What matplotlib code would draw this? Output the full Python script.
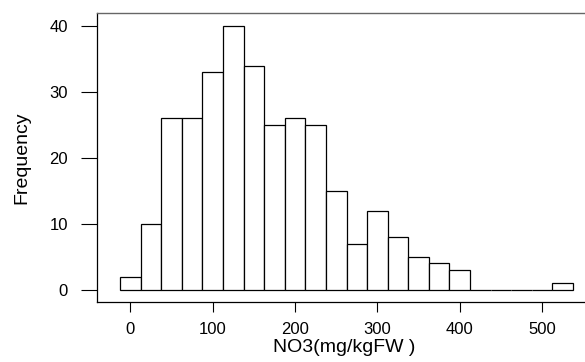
import numpy as np
import matplotlib
matplotlib.use("Agg")
import matplotlib.pyplot as plt

# ── Data ──────────────────────────────────────────────────────────
bin_edges = np.arange(-12.5, 537.5 + 1, 25)          # 22 bins, width 25
counts = [2, 10, 26, 26, 33, 40, 34, 25, 26, 25, 15,
          7, 12, 8, 5, 4, 3, 0, 0, 0, 0, 1]
x_ticks = [0, 100, 200, 300, 400, 500]
y_ticks = [0, 10, 20, 30, 40]
x_label = "NO3(mg/kgFW )"
y_label = "Frequency"

plt.rcParams["font.family"] = ["Liberation Sans", "DejaVu Sans"]

fig = plt.figure(figsize=(5.85, 3.62), dpi=100)
ax = fig.add_axes([0.1663, 0.1649, 0.845, 0.7992])

lefts = bin_edges[:-1]
ax.bar(lefts, counts, width=np.diff(bin_edges), align="edge",
       facecolor="white", edgecolor="black", linewidth=0.9)

ax.set_xlim(-40, 560)
ax.set_ylim(-1.91, 42.0)

ax.set_xticks(x_ticks)
ax.set_yticks(y_ticks)
ax.tick_params(axis="x", length=7, width=0.8, pad=7.5, labelsize=12)
ax.tick_params(axis="y", length=11.5, width=0.8, pad=9.5, labelsize=12)

for side in ["left", "bottom"]:
    ax.spines[side].set_color("black")
    ax.spines[side].set_linewidth(0.9)
ax.spines["top"].set_color("#666666")
ax.spines["top"].set_linewidth(1.0)
ax.spines["right"].set_visible(False)

ax.set_xlabel(x_label, fontsize=14, labelpad=1)
ax.set_ylabel(y_label, fontsize=14, labelpad=14)

fig.savefig("out.png", dpi=100)
